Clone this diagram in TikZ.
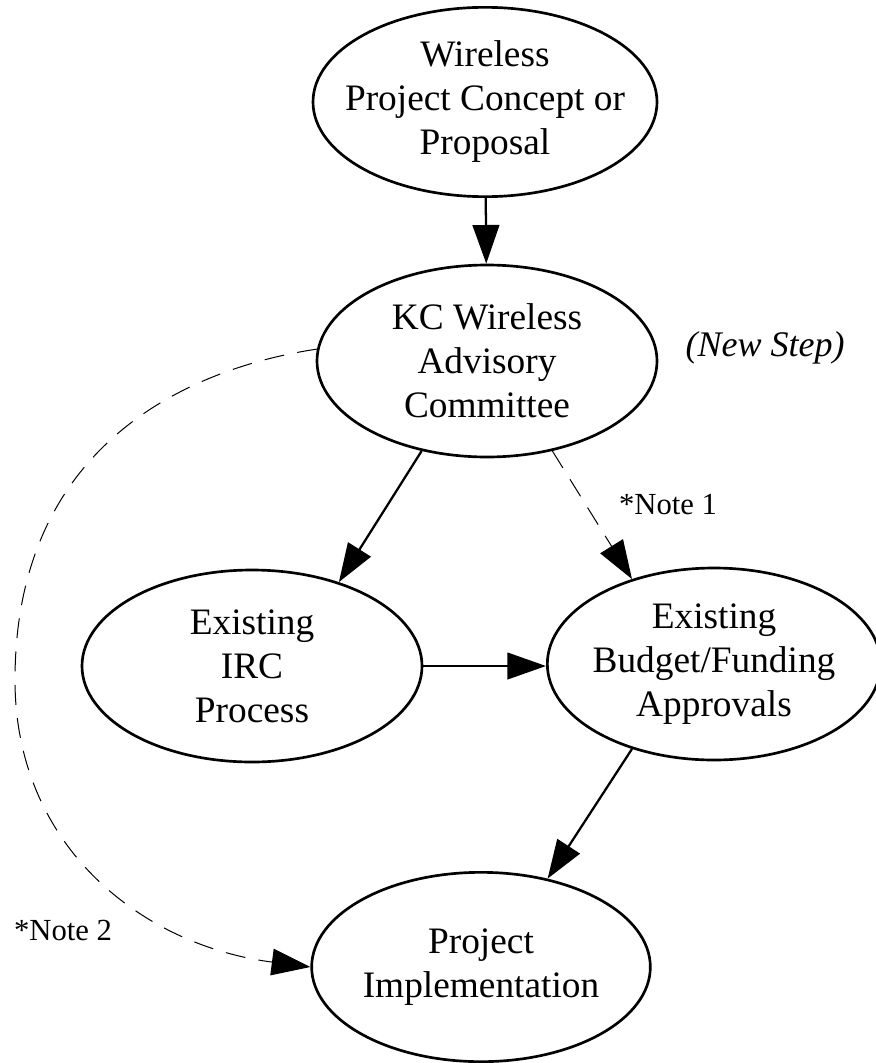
\documentclass[tikz,border=0pt]{standalone}
\usepackage{fontspec}
\setmainfont{Liberation Serif}
\usetikzlibrary{shapes.geometric, arrows.meta}

\tikzset{
  bubble/.style={ellipse, draw, line width=2pt, inner sep=-20pt, align=center,
    font=\fontsize{28}{33}\selectfont},
  flow/.style={line width=1.7pt, -{Triangle[length=29pt, width=20pt]}},
  maybe/.style={line width=0.75pt, dash pattern=on 15pt off 10pt,
    -{Triangle[length=29pt, width=20pt]}},
  remark/.style={font=\fontsize{23}{27}\selectfont}
}

\begin{document}
\begin{tikzpicture}[x=0.75pt, y=-0.75pt]
  \useasboundingbox (0,0) rectangle (875,1063);

  % the five steps
  \node[bubble, minimum width=258pt, minimum height=142pt] (prop) at (485,102)
    {Wireless\\Project Concept or\\Proposal};
  \node[bubble, minimum width=255pt, minimum height=144pt] (kc) at (487,361)
    {KC Wireless\\Advisory\\Committee};
  \node[bubble, minimum width=255pt, minimum height=144pt] (irc) at (252,666)
    {Existing\\IRC\\Process};
  \node[bubble, minimum width=250pt, minimum height=144pt] (budget) at (714,664)
    {Existing\\Budget/Funding\\Approvals};
  \node[bubble, minimum width=254pt, minimum height=142pt] (impl) at (481,967)
    {Project\\Implementation};

  % remarks
  \node[font=\fontsize{27}{31}\selectfont\itshape] (newstep) at (765,348) {(New Step)};
  \node[remark] (note1) at (668,505) {*Note 1};
  \node[remark] (note2) at (63,930) {*Note 2};

  % connectors
  \coordinate (bend) at (15,680);
  \draw[flow] (prop) -- (kc);
  \draw[flow] (kc.234) -- (irc.44);
  \draw[maybe] (kc.306) -- (budget.134);
  \draw[flow] (irc.east) -- (budget.west |- irc.east);
  \draw[flow] (budget.226) -- (impl.53);
  \draw[maybe] (kc.176) .. controls (210,365) and (15,430) .. (bend)
    .. controls (15,845) and (140,945) .. (impl.west);
\end{tikzpicture}
\end{document}
